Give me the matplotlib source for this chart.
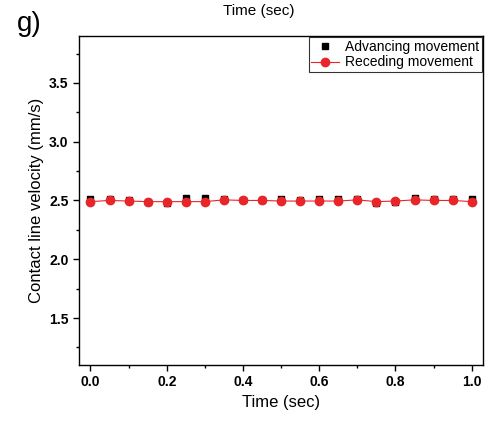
import numpy as np
import matplotlib.pyplot as plt
from matplotlib.ticker import MultipleLocator

plt.rcParams['font.family'] = ['Liberation Sans', 'DejaVu Sans']

time = [0.0, 0.05, 0.1, 0.15, 0.2, 0.25, 0.3, 0.35, 0.4, 0.45, 0.5,
        0.55, 0.6, 0.65, 0.7, 0.75, 0.8, 0.85, 0.9, 0.95, 1.0]
advancing = [2.51, 2.51, 2.50, 2.485, 2.48, 2.52, 2.52, 2.51, 2.505, 2.50, 2.51,
             2.50, 2.51, 2.515, 2.51, 2.48, 2.49, 2.52, 2.51, 2.515, 2.51]
receding = [2.49, 2.50, 2.495, 2.49, 2.49, 2.49, 2.49, 2.505, 2.50, 2.50, 2.495,
            2.495, 2.495, 2.495, 2.505, 2.49, 2.495, 2.505, 2.50, 2.50, 2.49]

fig = plt.figure(figsize=(4.88, 4.22), dpi=100)
ax = fig.add_axes([0.162, 0.135, 0.828, 0.78])

ax.plot(time, advancing, 's', color='black', markersize=4.5, label='Advancing movement')
ax.plot(time, receding, '-o', color='#e8262a', linewidth=0.8, markersize=6,
        label='Receding movement')

ax.set_xlim(-0.03, 1.03)
ax.set_ylim(1.1, 3.9)
ax.xaxis.set_major_locator(MultipleLocator(0.2))
ax.xaxis.set_minor_locator(MultipleLocator(0.1))
ax.yaxis.set_major_locator(MultipleLocator(0.5))
ax.yaxis.set_minor_locator(MultipleLocator(0.25))
ax.set_yticks([1.5, 2.0, 2.5, 3.0, 3.5])
ax.tick_params(which='major', direction='out', length=4, width=1, labelsize=10)
ax.tick_params(which='minor', direction='out', length=2.5, width=1)
for lab in ax.get_xticklabels() + ax.get_yticklabels():
    lab.set_fontweight('bold')
for s in ax.spines.values():
    s.set_linewidth(1)

ax.set_xlabel('Time (sec)', fontsize=12)
ax.set_ylabel('Contact line velocity (mm/s)', fontsize=12)

leg = ax.legend(loc='upper right', fontsize=10, frameon=True, fancybox=False,
                edgecolor='black', borderaxespad=0.1, borderpad=0.2,
                handlelength=2, handletextpad=0.4, labelspacing=0.1)
leg.get_frame().set_linewidth(0.8)

fig.text(0.53, 0.975, 'Time (sec)', fontsize=11, ha='center', va='center')
fig.text(0.035, 0.926, 'g)', fontsize=20, va='baseline')

fig.savefig('out.png')
